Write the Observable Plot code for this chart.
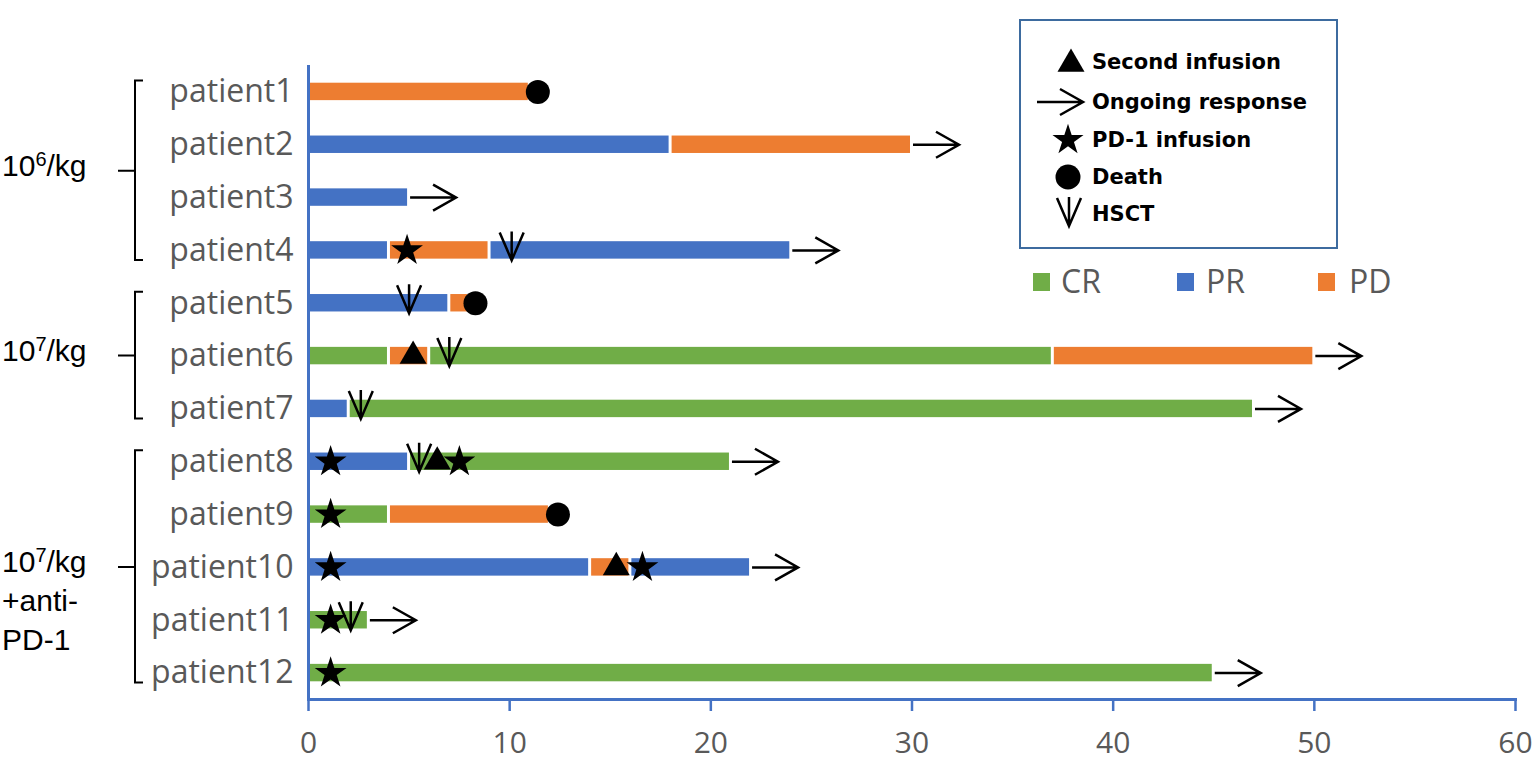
<!DOCTYPE html>
<html>
<head>
<meta charset="utf-8">
<script src="https://cdn.jsdelivr.net/npm/d3@7"></script>
<script src="https://cdn.jsdelivr.net/npm/@observablehq/plot@0.6"></script>
<style>
  html, body { margin: 0; padding: 0; background: #fff; overflow: hidden; }
  #chart { width: 1535px; height: 766px; }
</style>
</head>
<body>
<div id="chart"></div>
<script>
// ---------- data ----------
const patients = ["patient1","patient2","patient3","patient4","patient5","patient6",
                  "patient7","patient8","patient9","patient10","patient11","patient12"];

const statuses = ["CR", "PR", "PD"];

const segPatient = ["patient1","patient2","patient2","patient3","patient4","patient4","patient4",
                    "patient5","patient5","patient6","patient6","patient6","patient6",
                    "patient7","patient7","patient8","patient8","patient9","patient9",
                    "patient10","patient10","patient10","patient11","patient12"];
const segStart  = [0, 0, 18, 0, 0, 4, 9, 0, 7, 0, 4, 6, 37, 0, 2, 0, 5, 0, 4, 0, 14, 16, 0, 0];
const segEnd    = [11, 18, 30, 5, 4, 9, 24, 7, 8, 4, 6, 37, 50, 2, 47, 5, 21, 4, 12, 14, 16, 22, 3, 45];
const segStatus = ["PD","PR","PD","PR","PR","PD","PR","PR","PD","CR","PD","CR","PD",
                   "PR","CR","PR","CR","CR","PD","PR","PD","PR","CR","CR"];

const secondPatient = ["patient6", "patient8", "patient10"];
const secondX       = [5.2, 6.4, 15.3];

const pd1Patient = ["patient4","patient8","patient8","patient9","patient10","patient10","patient11","patient12"];
const pd1X       = [4.9, 1.1, 7.5, 1.1, 1.1, 16.6, 1.1, 1.1];

const deathPatient = ["patient1", "patient5", "patient9"];
const deathX       = [11.4, 8.3, 12.4];

const hsctPatient = ["patient4", "patient5", "patient6", "patient7", "patient8", "patient11"];
const hsctX       = [10.1, 5.0, 7.0, 2.6, 5.5, 2.1];

const ongoingPatient = ["patient2","patient3","patient4","patient6","patient7","patient8","patient10","patient11","patient12"];
const ongoingX       = [30, 5, 24, 50, 47, 21, 22, 3, 45];

const xTicks = [0, 10, 20, 30, 40, 50, 60];

const groupFirst = ["patient1", "patient5", "patient8"];
const groupLast  = ["patient4", "patient7", "patient12"];
const groupLines = [["10^6/kg"], ["10^7/kg"], ["10^7/kg", "+anti-", "PD-1"]];

const legendLabels = ["Second infusion", "Ongoing response", "PD-1 infusion", "Death", "HSCT"];

// ---------- styles ----------
const green = "#70ad47", blue = "#4472c4", orange = "#ed7d31", grey = "#595959";
const statusColors = [green, blue, orange];

const segments = segPatient.map((p, i) => ({patient: p, start: segStart[i], end: segEnd[i], status: segStatus[i]}));
const pairs = (ps, xs) => ps.map((p, i) => ({patient: p, x: xs[i]}));

// custom symbols (pixel geometry)
const ongoingSymbol = {
  draw(ctx) {
    ctx.moveTo(1, 0); ctx.lineTo(47, 0);
    ctx.moveTo(24, -13); ctx.lineTo(47, 0); ctx.lineTo(24, 13);
  }
};
const hsctSymbol = {
  draw(ctx) {
    ctx.moveTo(-12, -18); ctx.lineTo(0, 10); ctx.lineTo(12, -18);
    ctx.moveTo(0, -19); ctx.lineTo(0, 10);
  }
};

const plot = Plot.plot({
  width: 1535,
  height: 766,
  marginLeft: 308,
  marginRight: 20,
  marginTop: 65,
  marginBottom: 67,
  style: {background: "white", fontFamily: "Open Sans"},
  x: {domain: [0, 60]},
  y: {domain: patients, paddingInner: 0.67, paddingOuter: 0.335, align: 0.5, round: false},
  color: {domain: statuses, range: statusColors},
  marks: [
    Plot.barX(segments, {x1: "start", x2: "end", y: "patient", fill: "status", insetLeft: 1.5, insetRight: 1.5}),
    Plot.ruleX([0], {stroke: blue, strokeWidth: 3}),
    Plot.frame({anchor: "bottom", stroke: blue, strokeWidth: 3}),
    Plot.axisX({ticks: xTicks, tickSize: 12, stroke: blue, strokeWidth: 2.5, fill: grey,
                fontSize: 30, fontFamily: "Open Sans", tickPadding: 20, label: null}),
    Plot.axisY({tickSize: 0, tickPadding: 15, fill: grey, fontSize: 32, fontFamily: "Open Sans", label: null}),
    Plot.dot(pairs(ongoingPatient, ongoingX), {x: "x", y: "patient", symbol: ongoingSymbol, r: 10,
              fill: "none", stroke: "black", strokeWidth: 2.5, strokeLinejoin: "miter"}),
    Plot.dot(pairs(hsctPatient, hsctX), {x: "x", y: "patient", symbol: hsctSymbol, r: 10,
              fill: "none", stroke: "black", strokeWidth: 2.5, strokeLinejoin: "miter"}),
    Plot.dot(pairs(secondPatient, secondX), {x: "x", y: "patient", symbol: "triangle", r: 10, fill: "black", stroke: "none"}),
    Plot.dot(pairs(pd1Patient, pd1X), {x: "x", y: "patient", symbol: "star", r: 10, fill: "black", stroke: "none"}),
    Plot.dot(pairs(deathPatient, deathX), {x: "x", y: "patient", symbol: "circle", r: 12, fill: "black", stroke: "none"})
  ]
});

document.getElementById("chart").appendChild(plot);

// ---------- group brackets & labels (positioned from Plot's y scale) ----------
const ys = plot.scale("y");
const center = p => ys.apply(p) + ys.bandwidth / 2;
const svg = d3.select(plot);
const gb = svg.append("g").attr("fill", "none").attr("stroke", "black").attr("stroke-width", 2);
const gt = svg.append("g").attr("font-family", "Liberation Sans, Arial, sans-serif").attr("font-size", 30)
  .attr("fill", "black").attr("text-anchor", "start");

groupFirst.forEach((first, i) => {
  const top = center(first) - 11;
  const bottom = center(groupLast[i]) + 10;
  const mid = (center(first) + center(groupLast[i])) / 2;
  gb.append("path").attr("d", `M143,${top}H135V${bottom}H143M135,${mid}H118`);
  groupLines[i].forEach((line, j) => {
    const t = gt.append("text").attr("x", 2).attr("y", mid - 5 + j * 39).attr("dy", "0.35em");
    const m = line.match(/^(.*?)\^(\d)(.*)$/);
    if (m) {
      t.append("tspan").text(m[1]);
      t.append("tspan").attr("font-size", 20).attr("dy", -10).text(m[2]);
      t.append("tspan").attr("dy", 10).text(m[3]);
    } else {
      t.text(line);
    }
  });
});

// ---------- symbol legend box ----------
const lg = svg.append("g").attr("text-anchor", "start");
lg.append("rect").attr("x", 1020).attr("y", 20).attr("width", 317).attr("height", 228)
  .attr("fill", "white").attr("stroke", "#3d6b9f").attr("stroke-width", 2);
const rowY = [62, 102, 140, 177, 214];
const symX = [1071, 1036, 1068, 1068, 1069];
legendLabels.forEach((label, i) => {
  lg.append("text").attr("x", 1092).attr("y", rowY[i]).attr("dy", "0.35em")
    .attr("font-family", "DejaVu Sans").attr("font-weight", "bold").attr("font-size", 21)
    .attr("fill", "black").text(label);
});
lg.append("path").attr("transform", `translate(${symX[0]},${rowY[0] + 2})`).attr("d", d3.symbol(d3.symbolTriangle, 316)()).attr("fill", "black");
lg.append("path").attr("transform", `translate(${symX[1]},${rowY[1]})`).attr("d", d3.symbol(ongoingSymbol)()).attr("fill", "none").attr("stroke", "black").attr("stroke-width", 2.5);
lg.append("path").attr("transform", `translate(${symX[2]},${rowY[2]})`).attr("d", d3.symbol(d3.symbolStar, 300)()).attr("fill", "black");
lg.append("path").attr("transform", `translate(${symX[3]},${rowY[3]})`).attr("d", d3.symbol(d3.symbolCircle, 491)()).attr("fill", "black");
lg.append("path").attr("transform", `translate(${symX[4]},${rowY[4] + 2})`).attr("d", d3.symbol(hsctSymbol)()).attr("fill", "none").attr("stroke", "black").attr("stroke-width", 2.5);

// ---------- status colour legend ----------
const swX = [1033, 1177, 1318];
const swTextX = [1061, 1206, 1349];
statuses.forEach((s, i) => {
  lg.append("rect").attr("x", swX[i]).attr("y", 273).attr("width", 17).attr("height", 18).attr("fill", statusColors[i]);
  lg.append("text").attr("x", swTextX[i]).attr("y", 282).attr("dy", "0.35em")
    .attr("font-family", "Open Sans").attr("font-size", 32).attr("fill", grey).text(s);
});
</script>
</body>
</html>
